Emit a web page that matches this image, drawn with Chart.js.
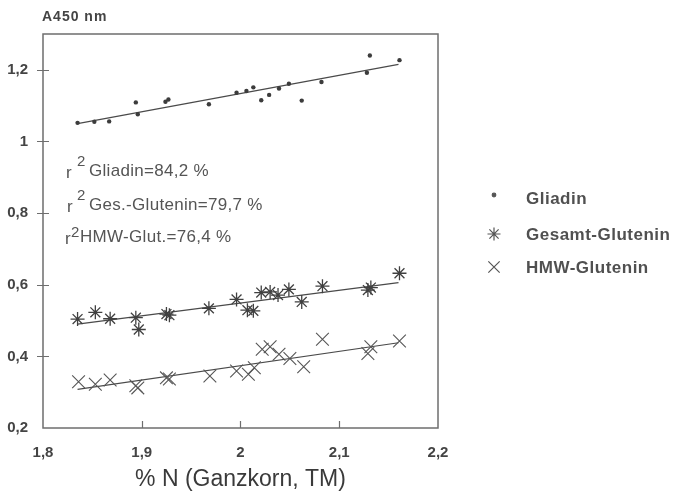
<!DOCTYPE html>
<html>
<head>
<meta charset="utf-8">
<script src="https://cdn.jsdelivr.net/npm/chart.js@4.4.1/dist/chart.umd.min.js"></script>
<style>
  html, body { margin: 0; padding: 0; background: #fff; }
</style>
</head>
<body>
<canvas id="chart" width="679" height="492"></canvas>
<script>
        // values
        var gliadinX = [1.835, 1.852, 1.867, 1.894, 1.896, 1.924, 1.927, 1.968, 1.996, 2.006, 2.013, 2.021, 2.029, 2.039, 2.049, 2.062, 2.082, 2.128, 2.131, 2.161];
        var gliadinY = [1.052, 1.055, 1.056, 1.109, 1.076, 1.111, 1.117, 1.104, 1.136, 1.141, 1.151, 1.115, 1.130, 1.148, 1.161, 1.114, 1.166, 1.192, 1.240, 1.227];

        var gesamtX = [1.835, 1.853, 1.868, 1.894, 1.897, 1.925, 1.928, 1.968, 1.996, 2.007, 2.013, 2.021, 2.030, 2.038, 2.049, 2.062, 2.083, 2.129, 2.132, 2.161];
        var gesamtY = [0.504, 0.523, 0.505, 0.508, 0.475, 0.518, 0.515, 0.534, 0.559, 0.529, 0.527, 0.578, 0.580, 0.571, 0.587, 0.552, 0.596, 0.585, 0.592, 0.632];

        var hmwX = [1.836, 1.853, 1.868, 1.894, 1.896, 1.925, 1.928, 1.969, 1.996, 2.008, 2.014, 2.022, 2.030, 2.039, 2.050, 2.064, 2.083, 2.129, 2.132, 2.161];
        var hmwY = [0.329, 0.322, 0.334, 0.318, 0.312, 0.340, 0.337, 0.345, 0.359, 0.350, 0.368, 0.420, 0.427, 0.406, 0.394, 0.371, 0.448, 0.408, 0.427, 0.443];

        // regression lines (end points)
        var fitX = [1.835, 2.16];
        var gliadinFit = [1.050, 1.215];
        var gesamtFit = [0.490, 0.606];
        var hmwFit = [0.308, 0.438];

        var xTicks = [1.8, 1.9, 2, 2.1, 2.2];
        var yTicks = [0.2, 0.4, 0.6, 0.8, 1, 1.2];
        var seriesNames = ["Gliadin", "Gesamt-Glutenin", "HMW-Glutenin"];
        var r2Texts = ["Gliadin=84,2 %", "Ges.-Glutenin=79,7 %", "HMW-Glut.=76,4 %"];
        var yTitle = "A450 nm";
        var xTitle = "% N (Ganzkorn, TM)";

        var ink = "#4a4a4a";
        var FONT = '"Liberation Sans", Arial, sans-serif';

        function pts(xs, ys) {
            return xs.map((x, i) => ({x: x, y: ys[i]}));
        }
        function fmt(v) {
            var r = Math.round(v * 10) / 10;
            return Number.isInteger(r) ? String(r) : r.toFixed(1).replace(".", ",");
        }

        var decorations = {
            id: 'decorations',
            afterDraw: (chart) => {
                const {ctx, chartArea: a, scales} = chart;
                ctx.save();
                // frame
                ctx.strokeStyle = "#6e6e6e";
                ctx.lineWidth = 1.5;
                ctx.strokeRect(a.left, a.top, a.right - a.left, a.bottom - a.top);
                // tick marks
                ctx.lineWidth = 1.2;
                ctx.beginPath();
                xTicks.slice(1, -1).forEach(v => {
                    var px = Math.round(scales.x.getPixelForValue(v)) + 0.5;
                    ctx.moveTo(px, a.bottom);
                    ctx.lineTo(px, a.bottom - 7);
                });
                yTicks.slice(1).forEach(v => {
                    var py = Math.round(scales.y.getPixelForValue(v)) + 0.5;
                    ctx.moveTo(a.left - 6, py);
                    ctx.lineTo(a.left + 6, py);
                });
                ctx.stroke();

                // axis title at top left
                ctx.fillStyle = "#444";
                ctx.textBaseline = "middle";
                ctx.letterSpacing = "1px";
                ctx.font = "bold 14px " + FONT;
                ctx.fillText(yTitle, 42, 17);

                // r2 notes
                var rows = [
                    {y: 171, r: 66, s: 77, t: 89, sy: 162},
                    {y: 205, r: 67, s: 77, t: 89, sy: 196},
                    {y: 237, r: 65, s: 71, t: 80, sy: 233}
                ];
                ctx.letterSpacing = "0.3px";
                ctx.fillStyle = "#555";
                rows.forEach((row, i) => {
                    ctx.font = "17px " + FONT;
                    ctx.fillText("r", row.r, row.y + 2);
                    ctx.fillText(r2Texts[i], row.t, row.y);
                    ctx.font = "15px " + FONT;
                    ctx.fillText("2", row.s, row.sy);
                });

                // legend
                var legendY = [198, 234, 267];
                var markers = [
                    {pointStyle: "circle", radius: 1.8, borderWidth: 1},
                    {pointStyle: "star", radius: 6.5, borderWidth: 1.1},
                    {pointStyle: "crossRot", radius: 8, borderWidth: 1}
                ];
                markers.forEach((m, i) => {
                    ctx.strokeStyle = "#555";
                    ctx.fillStyle = "#555";
                    Chart.helpers.drawPoint(ctx, m, 494, legendY[i] - (i == 0 ? 3 : 0));
                });
                ctx.font = "bold 17px " + FONT;
                ctx.letterSpacing = "0.5px";
                ctx.fillStyle = "#505050";
                seriesNames.forEach((n, i) => ctx.fillText(n, 526, legendY[i] + 1));
                ctx.restore();
            }
        };

        const el = document.getElementById("chart");
        new Chart(el, {
            type: "scatter",
            data: {
                datasets: [{
                    label: seriesNames[0],
                    data: pts(gliadinX, gliadinY),
                    pointStyle: "circle",
                    pointRadius: 2.2,
                    backgroundColor: "#3c3c3c",
                    borderColor: "#3c3c3c",
                    borderWidth: 0
                }, {
                    label: seriesNames[1],
                    data: pts(gesamtX, gesamtY),
                    pointStyle: "star",
                    pointRadius: 7,
                    borderColor: "#404040",
                    borderWidth: 1.3
                }, {
                    label: seriesNames[2],
                    data: pts(hmwX, hmwY),
                    pointStyle: "crossRot",
                    pointRadius: 9,
                    borderColor: "#555",
                    borderWidth: 1.1
                }, {
                    label: "fit1",
                    data: pts(fitX, gliadinFit),
                    showLine: true, pointRadius: 0, borderColor: ink, borderWidth: 1.2
                }, {
                    label: "fit2",
                    data: pts(fitX, gesamtFit),
                    showLine: true, pointRadius: 0, borderColor: ink, borderWidth: 1.2
                }, {
                    label: "fit3",
                    data: pts(fitX, hmwFit),
                    showLine: true, pointRadius: 0, borderColor: ink, borderWidth: 1.2
                }]
            },
            options: {
                responsive: false,
                animation: false,
                layout: {
                    padding: {left: 0, top: 34, right: 241, bottom: 0}
                },
                plugins: {
                    legend: {display: false},
                    tooltip: {enabled: false}
                },
                scales: {
                    x: {
                        type: "linear",
                        min: 1.8,
                        max: 2.2,
                        grid: {display: false},
                        border: {display: false},
                        afterBuildTicks: (s) => { s.ticks = xTicks.map(v => ({value: v})); },
                        afterFit: (s) => { s.height = 64; },
                        ticks: {
                            color: "#444",
                            padding: 8,
                            maxRotation: 0,
                            autoSkip: false,
                            font: {family: FONT, size: 15, weight: "bold"},
                            callback: (v) => fmt(v)
                        },
                        title: {
                            display: true,
                            text: xTitle,
                            color: "#3a3a3a",
                            padding: {top: 0, bottom: 1},
                            font: {family: FONT, size: 23, lineHeight: 1}
                        }
                    },
                    y: {
                        min: 0.2,
                        max: 1.3,
                        grid: {display: false},
                        border: {display: false},
                        afterBuildTicks: (s) => { s.ticks = yTicks.map(v => ({value: v})); },
                        afterFit: (s) => { s.width = 43; },
                        ticks: {
                            color: "#444",
                            padding: 7,
                            autoSkip: false,
                            font: {family: FONT, size: 15, weight: "bold"},
                            callback: (v) => fmt(v)
                        }
                    }
                }
            },
            plugins: [decorations]
        });
</script>
</body>
</html>
